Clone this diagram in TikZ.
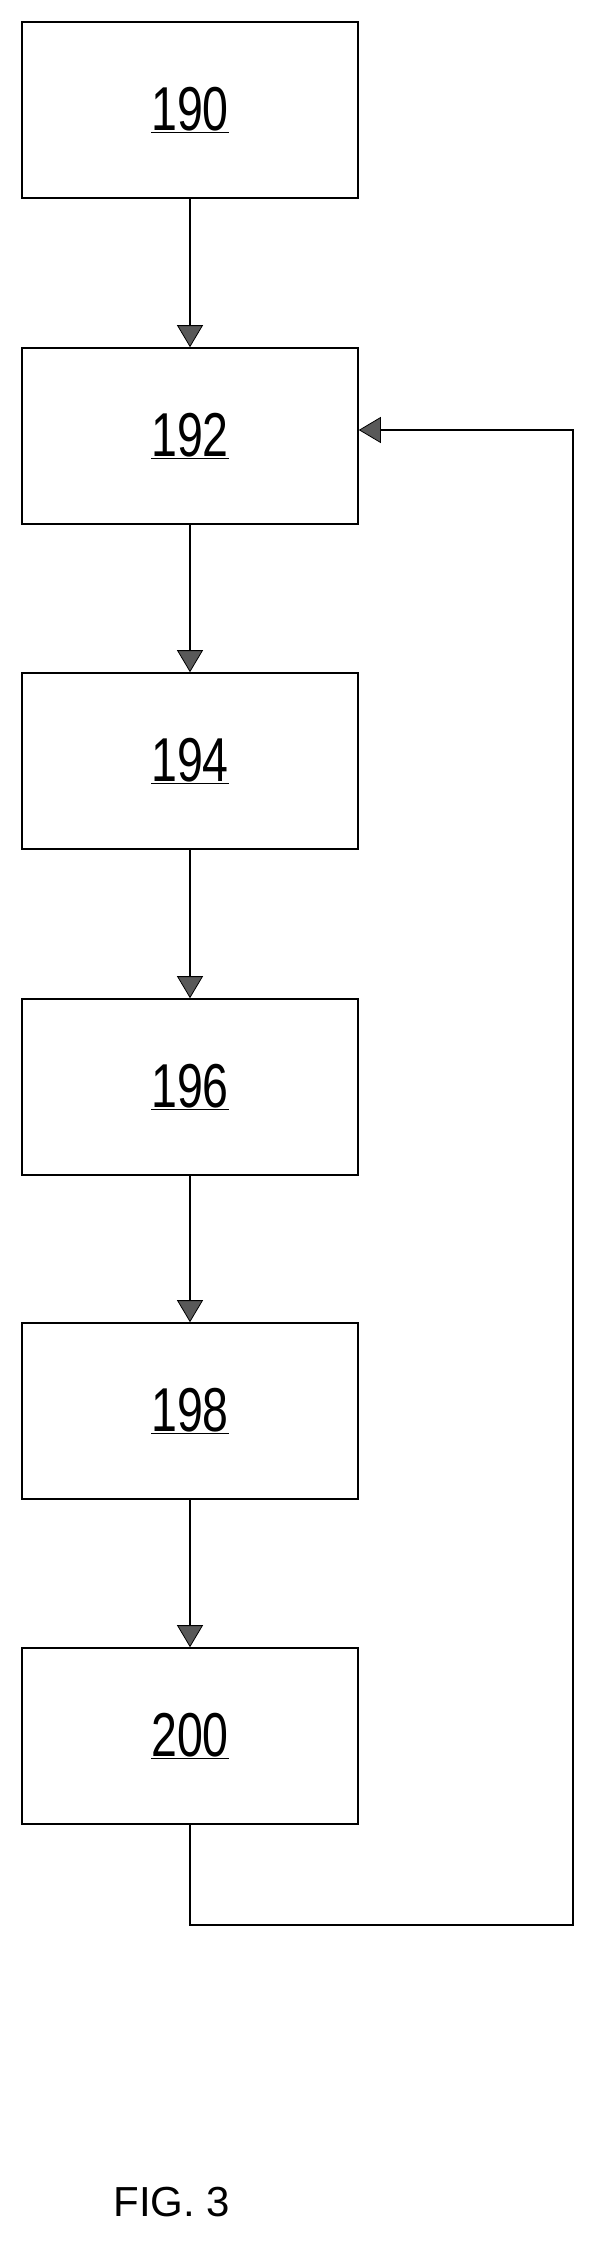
\documentclass[tikz,border=0pt]{standalone}
\usepackage{fontspec}
\setmainfont{Liberation Sans}
\usetikzlibrary{arrows.meta}
\begin{document}
\begin{tikzpicture}[x=1pt,y=-1pt,
  blk/.style={draw,line width=1.6pt,minimum width=336pt,minimum height=176pt,inner sep=0pt,
    font=\fontsize{62}{62}\selectfont},
  arr/.style={line width=1.6pt,-{Triangle[length=22pt,width=26pt,fill=gray!70!black,line width=0.8pt]}}]
\useasboundingbox (0,0) rectangle (602,2260);
\node[blk] (b190) at (190,110) {\scalebox{0.75}[1]{\underline{190}}};
\node[blk] (b192) at (190,436) {\scalebox{0.75}[1]{\underline{192}}};
\node[blk] (b194) at (190,761) {\scalebox{0.75}[1]{\underline{194}}};
\node[blk] (b196) at (190,1087) {\scalebox{0.75}[1]{\underline{196}}};
\node[blk] (b198) at (190,1411) {\scalebox{0.75}[1]{\underline{198}}};
\node[blk] (b200) at (190,1736) {\scalebox{0.75}[1]{\underline{200}}};
\draw[arr] (b190) -- (b192);
\draw[arr] (b192) -- (b194);
\draw[arr] (b194) -- (b196);
\draw[arr] (b196) -- (b198);
\draw[arr] (b198) -- (b200);
\coordinate (c1) at (190,1925);
\coordinate (c2) at (573,1925);
\coordinate (c3) at (573,430);
\draw[arr] (b200.south) -- (c1) -- (c2) -- (c3) -- (b192.east |- c3);
\node[font=\fontsize{42}{42}\selectfont] (fig) at (172,2202) {FIG. 3};
\end{tikzpicture}
\end{document}
